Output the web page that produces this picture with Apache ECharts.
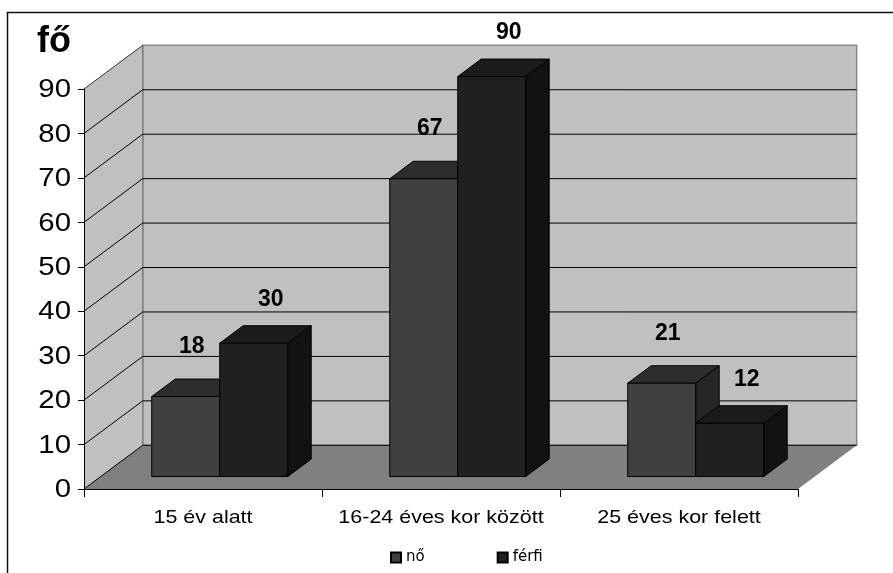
<!DOCTYPE html>
<html>
<head>
<meta charset="utf-8">
<script src="https://cdn.jsdelivr.net/npm/echarts@6/dist/echarts.min.js"></script>
<style>
  html, body { margin: 0; padding: 0; background: #fff; }
  #chart { width: 893px; height: 573px; }
</style>
</head>
<body>
<div id="chart"></div>
<script>
// Age groups and head counts per gender
const categories = ['15 év alatt', '16-24 éves kor között', '25 éves kor felett'];
const seriesNames = ['nő', 'férfi'];
const noValues = [18, 67, 21];
const ferfiValues = [30, 90, 12];
const yTicks = [0, 10, 20, 30, 40, 50, 60, 70, 80, 90];
const yUnit = 'fő';

// Oblique projection of the box: how far the back wall sits from the front plane
const DEPTH = [58.7, -43.7];
// Bars occupy this slice of the depth
const BAR_FRONT = 0.285;
const BAR_BACK = 0.685;

const FONT = '"Liberation Sans", Arial, sans-serif';
const TEXT_STRETCH = 1.13;

const chart = echarts.init(document.getElementById('chart'), null, { renderer: 'canvas' });

function wallsRenderer(params, api) {
  const cs = params.coordSys;
  const left = cs.x, right = cs.x + cs.width;
  const yMax = yTicks[yTicks.length - 1];
  const y0 = api.coord([0, 0])[1];
  const yTop = api.coord([0, yMax])[1];
  const [dx, dy] = DEPTH;
  const children = [];

  // back wall, side wall, floor
  children.push({
    type: 'polygon',
    shape: { points: [[left + dx, yTop + dy], [right + dx, yTop + dy], [right + dx, y0 + dy], [left + dx, y0 + dy]] },
    style: { fill: '#c0c0c0', stroke: '#8a8a8a', lineWidth: 1.5 }
  });
  children.push({
    type: 'polygon',
    shape: { points: [[left, yTop], [left + dx, yTop + dy], [left + dx, y0 + dy], [left, y0]] },
    style: { fill: '#c0c0c0' }
  });
  children.push({
    type: 'polygon',
    shape: { points: [[left, y0], [right, y0], [right + dx, y0 + dy], [left + dx, y0 + dy]] },
    style: { fill: '#808080' }
  });
  // corner edge between the walls
  children.push({
    type: 'line',
    shape: { x1: left + dx, y1: yTop + dy, x2: left + dx, y2: y0 + dy },
    style: { stroke: '#808080', lineWidth: 1.5 }
  });

  // gridlines on side and back walls, plus tick labels
  yTicks.forEach(function (v) {
    const y = api.coord([0, v])[1];
    children.push({
      type: 'line',
      shape: { x1: left, y1: y, x2: left + dx, y2: y + dy },
      style: { stroke: v === yMax ? '#333' : '#000', lineWidth: 1 }
    });
    if (v < yMax) {
      children.push({
        type: 'line',
        shape: { x1: left + dx, y1: y + dy, x2: right + dx, y2: y + dy },
        style: { stroke: '#000', lineWidth: 1 }
      });
    }
    children.push({
      type: 'text',
      x: left - 13, y: y + 1,
      scaleX: TEXT_STRETCH,
      style: {
        text: String(v), font: '26px ' + FONT, fill: '#000',
        align: 'right', verticalAlign: 'middle'
      }
    });
  });

  // category labels under the floor
  categories.forEach(function (c, i) {
    const p = api.coord([i, 0]);
    children.push({
      type: 'text',
      x: p[0], y: p[1] + 29,
      scaleX: TEXT_STRETCH,
      style: {
        text: c, font: '19px ' + FONT, fill: '#000',
        align: 'center', verticalAlign: 'middle'
      }
    });
  });

  return { type: 'group', children: children };
}

function barRenderer(slot, colors, labelShift) {
  return function (params, api) {
    const cat = api.value(0), val = api.value(1);
    const topPt = api.coord([cat, val]);
    const basePt = api.coord([cat, 0]);
    const band = api.size([1, 0])[0];
    const w = band * 2 / 7;
    const fx = DEPTH[0] * BAR_FRONT, fy = DEPTH[1] * BAR_FRONT;
    const ddx = DEPTH[0] * (BAR_BACK - BAR_FRONT), ddy = DEPTH[1] * (BAR_BACK - BAR_FRONT);
    const xL = topPt[0] + (slot === 0 ? -w : 0) + fx;
    const xR = xL + w;
    const yT = topPt[1] + fy;
    const yB = basePt[1] + fy;
    const edge = { stroke: '#000', lineWidth: 1 };
    return {
      type: 'group',
      children: [
        {
          type: 'polygon',
          shape: { points: [[xR, yT], [xR + ddx, yT + ddy], [xR + ddx, yB + ddy], [xR, yB]] },
          style: Object.assign({ fill: colors.side }, edge)
        },
        {
          type: 'polygon',
          shape: { points: [[xL, yT], [xR, yT], [xR + ddx, yT + ddy], [xL + ddx, yT + ddy]] },
          style: Object.assign({ fill: colors.top }, edge)
        },
        {
          type: 'rect',
          shape: { x: xL, y: yT, width: w, height: yB - yT },
          style: Object.assign({ fill: colors.front }, edge)
        },
        {
          type: 'text',
          x: xL + w / 2 + labelShift[0], y: yT + labelShift[1],
          style: {
            text: String(val), font: 'bold 23px ' + FONT, fill: '#000',
            align: 'center', verticalAlign: 'middle'
          }
        }
      ]
    };
  };
}

const noColors = { front: '#404040', top: '#2d2d2d', side: '#262626' };
const ferfiColors = { front: '#202020', top: '#1b1b1b', side: '#121212' };

const option = {
  backgroundColor: '#fff',
  animation: false,
  grid: { left: 84, right: 95, top: 89, bottom: 84, containLabel: false },
  xAxis: {
    type: 'category',
    data: categories,
    z: 5,
    axisLine: { show: true, lineStyle: { color: '#000', width: 1 } },
    axisTick: { show: true, length: 8, lineStyle: { color: '#000' } },
    axisLabel: { show: false },
    splitLine: { show: false }
  },
  yAxis: {
    type: 'value',
    min: 0, max: 90, interval: 10,
    z: 5,
    axisLine: { show: true, lineStyle: { color: '#000', width: 1 } },
    axisTick: { show: true, length: 6, lineStyle: { color: '#000' } },
    axisLabel: { show: false },
    splitLine: { show: false }
  },
  legend: {
    data: seriesNames,
    left: 390, top: 550,
    padding: 0,
    icon: 'rect',
    itemWidth: 10, itemHeight: 10,
    itemGap: 72,
    textStyle: { fontFamily: '"DejaVu Sans", sans-serif', fontSize: 15, color: '#000' }
  },
  graphic: [
    {
      type: 'rect', z: -10, silent: true,
      shape: { x: 7.5, y: 12.5, width: 1000, height: 1000 },
      style: { fill: 'none', stroke: '#111', lineWidth: 1.5 }
    },
    {
      type: 'text', left: 37, top: 24,
      style: { text: yUnit, font: 'bold 36px ' + FONT, fill: '#000' }
    }
  ],
  series: [
    {
      type: 'custom', name: '_box', z: 1, clip: false, silent: true,
      renderItem: wallsRenderer,
      data: [[0, 0]]
    },
    {
      type: 'custom', name: seriesNames[0], z: 2, clip: false,
      itemStyle: { color: noColors.front, borderColor: '#000', borderWidth: 1 },
      renderItem: barRenderer(0, noColors, [6, -50]),
      data: noValues.map(function (v, i) { return [i, v]; })
    },
    {
      type: 'custom', name: seriesNames[1], z: 2, clip: false,
      itemStyle: { color: ferfiColors.front, borderColor: '#000', borderWidth: 1 },
      renderItem: barRenderer(1, ferfiColors, [17, -44]),
      data: ferfiValues.map(function (v, i) { return [i, v]; })
    }
  ]
};

chart.setOption(option);
</script>
</body>
</html>
